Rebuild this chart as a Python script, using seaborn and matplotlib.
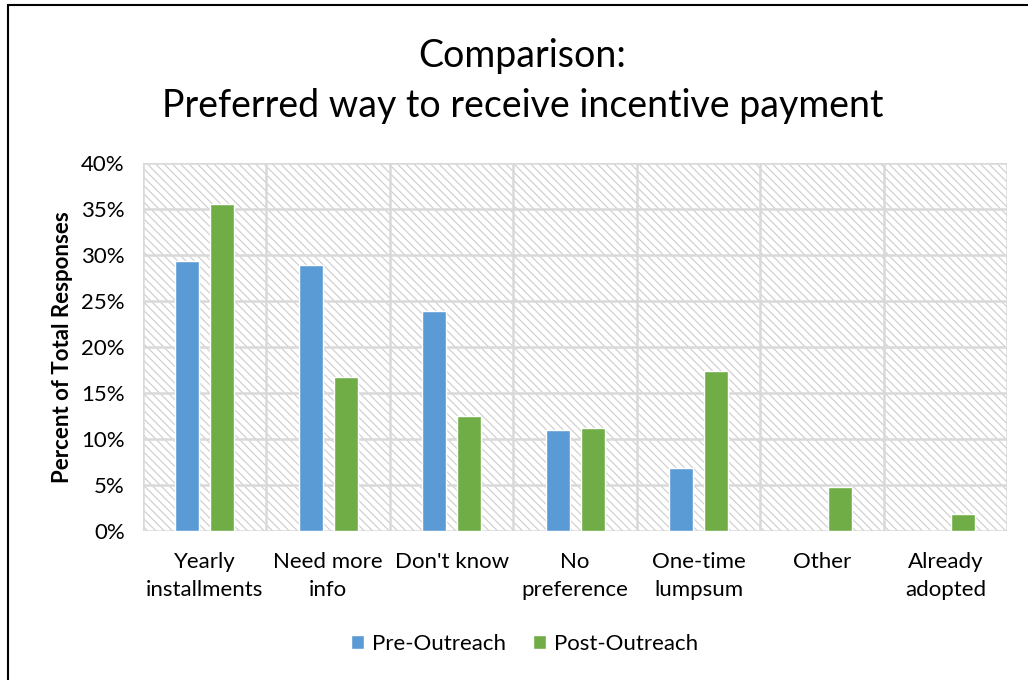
import matplotlib.pyplot as plt
import matplotlib.patches as mpatches
from matplotlib.ticker import PercentFormatter, FixedLocator
import pandas as pd
import seaborn as sns

categories = ["Yearly\ninstallments", "Need more\ninfo", "Don't know", "No\npreference",
              "One-time\nlumpsum", "Other", "Already\nadopted"]
pre_outreach = [29.4, 28.9, 23.9, 11.0, 6.9, 0.0, 0.0]
post_outreach = [35.6, 16.7, 12.5, 11.2, 17.4, 4.8, 1.9]
series = ["Pre-Outreach", "Post-Outreach"]
colors = ["#5B9BD5", "#70AD47"]

df = pd.DataFrame({
    "category": categories * 2,
    "value": pre_outreach + post_outreach,
    "series": [series[0]] * len(categories) + [series[1]] * len(categories),
})

sns.set_style("white")
plt.rcParams['font.family'] = ['Lato', 'DejaVu Sans']
plt.rcParams['hatch.linewidth'] = 0.8

fig = plt.figure(figsize=(10.28, 6.8), dpi=100)
ax = fig.add_axes([0.139, 0.219, 0.841, 0.541])

# hatched plot background
bg = mpatches.Rectangle((0, 0), 1, 1, transform=ax.transAxes, facecolor="white",
                        edgecolor="#cccccc", hatch="\\\\\\\\", linewidth=0, zorder=0)
ax.add_patch(bg)

sns.barplot(data=df, x="category", y="value", hue="series", palette=colors,
            width=0.57, gap=0.32, ax=ax, zorder=3, saturation=1)

ax.set_ylim(0, 40)
ax.set_xlim(-0.5, len(categories) - 0.5)
ax.yaxis.set_major_formatter(PercentFormatter(decimals=0))
ax.set_yticks(range(0, 41, 5))
ax.xaxis.set_minor_locator(FixedLocator([i + 0.5 for i in range(-1, len(categories))]))
ax.grid(axis="y", which="major", color="#d9d9d9", linewidth=1.8, zorder=1)
ax.grid(axis="x", which="minor", color="#d9d9d9", linewidth=1.8, zorder=1)
ax.tick_params(axis="both", which="both", length=0, labelsize=16, colors="black")
ax.tick_params(axis="x", pad=15)
ax.tick_params(axis="y", pad=13)
for lbl in ax.get_xticklabels():
    lbl.set_linespacing(1.5)
for s in ax.spines.values():
    s.set_visible(False)

ax.set_xlabel("")
ax.set_ylabel("Percent of Total Responses", fontsize=16, fontweight="bold", labelpad=6,
              color="black")

fig.text(0.508, 1 - 67 / 680, "Comparison:", fontsize=27, ha="center", va="baseline",
         color="black")
fig.text(0.508, 1 - 117 / 680, "Preferred way to receive incentive payment", fontsize=27,
         ha="center", va="baseline", color="black")

handles, labels = ax.get_legend_handles_labels()
ax.get_legend().remove()
fig.legend(handles, labels, loc="center", bbox_to_anchor=(0.51, 1 - 644 / 680), ncol=2,
           frameon=False, fontsize=16, handlelength=0.6, handleheight=0.6,
           columnspacing=1.2, handletextpad=0.35, labelcolor="black")

fig.patches.append(mpatches.Rectangle((8 / 1028, -0.1), 1.2, 1.1 - 5 / 680,
                                      transform=fig.transFigure, fill=False,
                                      edgecolor="black", linewidth=1.5))

fig.savefig("out.png", dpi=100)
